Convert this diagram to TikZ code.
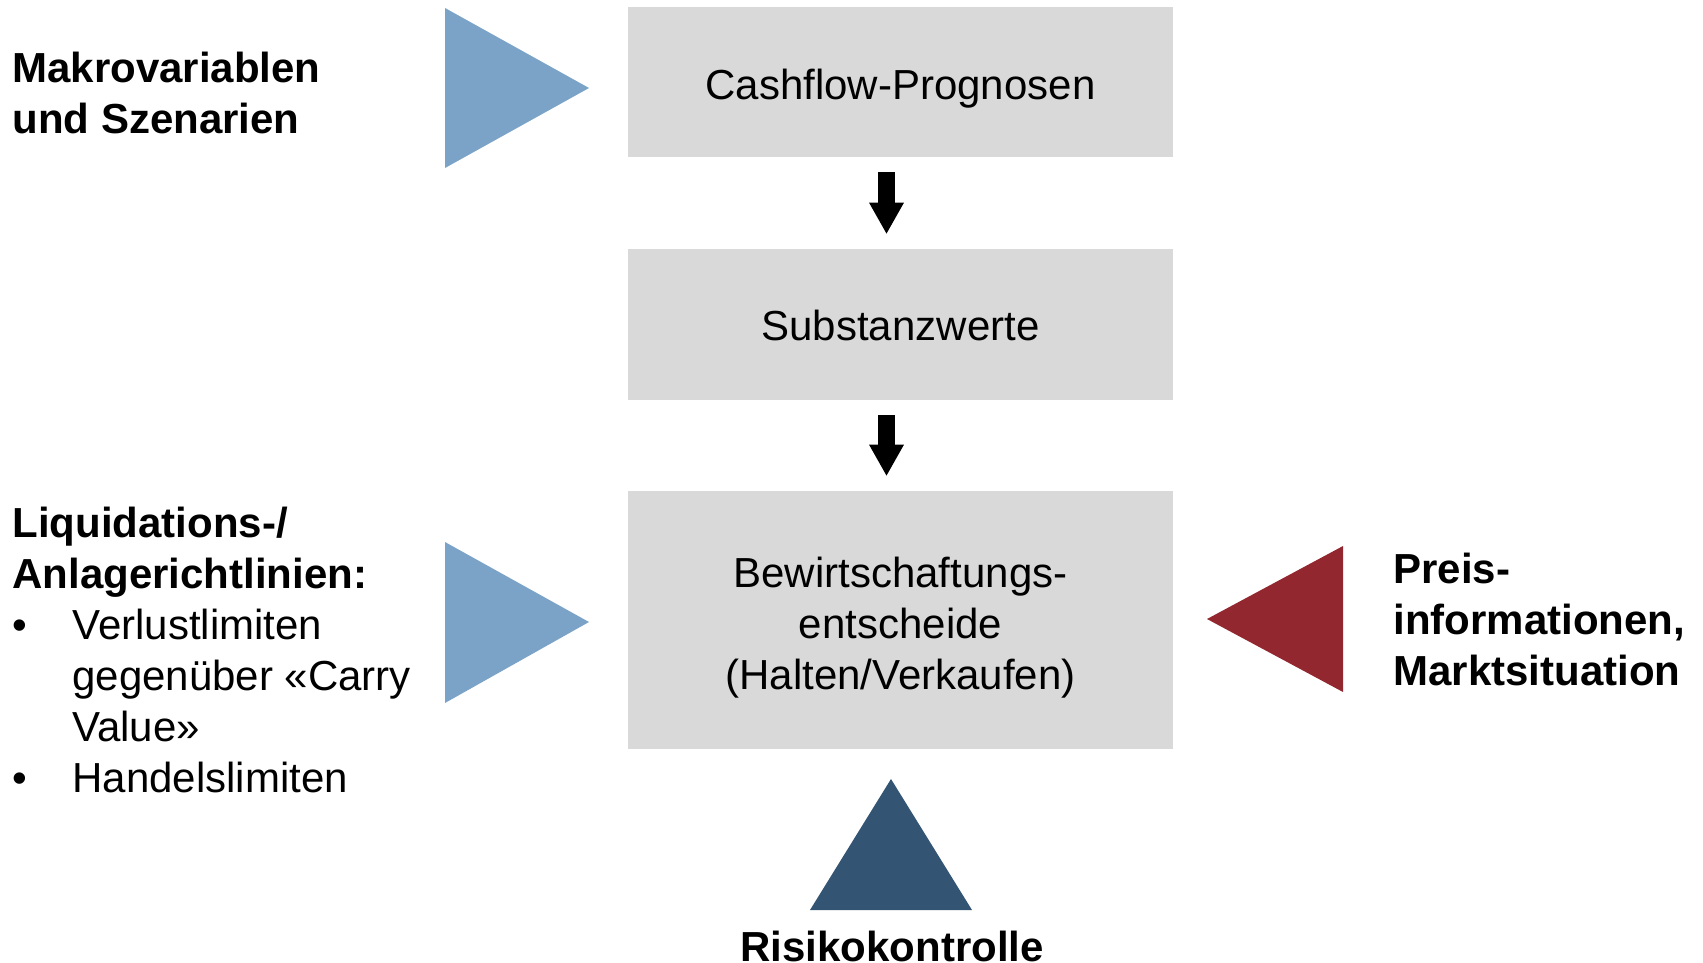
\documentclass[tikz,border=0pt]{standalone}
\usepackage{fontspec}
\setmainfont{Liberation Sans}
\usetikzlibrary{arrows.meta,positioning}
\definecolor{boxgray}{RGB}{217,217,217}
\definecolor{lightblue}{RGB}{123,163,200}
\definecolor{darkred}{RGB}{147,39,48}
\definecolor{navy}{RGB}{51,85,115}

\begin{document}
\begin{tikzpicture}[x=0.5pt,y=-0.5pt,box/.style={fill=boxgray,align=center,inner sep=0pt,minimum width=272.5pt,font=\fontsize{21}{25.5}\selectfont},lbl/.style={align=left,inner sep=0pt,font=\fontsize{21}{25.5}\selectfont},arr/.style={line width=8.5pt,-{Triangle[width=17.5pt,length=15.5pt,line width=0pt]}}]
\useasboundingbox (0,0) rectangle (1703,963);
% flow boxes
\node[box,minimum height=75pt,text height=21.5pt] (cash) at (900.5,82) {Cashflow-Prognosen};
\node[box,minimum height=75.5pt,text height=20pt,text depth=4.5pt] (subst) at (900.5,324.5) {Substanzwerte};
\node[box,minimum height=129pt,text height=74pt] (decide) at (900.5,620) {Bewirtschaftungs-\\entscheide\\(Halten/Verkaufen)};
\draw[arr] ([xshift=-7pt,yshift=-7.5pt]cash.south)--([xshift=-7pt,yshift=7.5pt]subst.north);
\draw[arr] ([xshift=-7pt,yshift=-7.5pt]subst.south)--([xshift=-7pt,yshift=7.5pt]decide.north);
% input triangles
\fill[lightblue] (445,8)--(445,168)--(589,88)--cycle;
\fill[lightblue] (445,542)--(445,703)--(589,622)--cycle;
\fill[darkred] (1343,546)--(1343,692)--(1207,619)--cycle;
\fill[navy] (810,910)--(972,910)--(891,779)--cycle;
% labels
\node[lbl,anchor=north west] (makro) at (12,52) {\bfseries Makrovariablen\\\bfseries und Szenarien};
\node[lbl,anchor=north west] (guide) at (12,507) {\bfseries Liquidations-/\\\bfseries Anlagerichtlinien:\\\makebox[30pt][l]{•}Verlustlimiten\\\hspace*{30pt}gegenüber «Carry\\\hspace*{30pt}Value»\\\makebox[30pt][l]{•}Handelslimiten};
\node[lbl,anchor=north west] (price) at (1393,553) {\bfseries Preis-\\\bfseries informationen,\\\bfseries Marktsituation};
\node[lbl,anchor=base] (risk) at (892,961) {\bfseries Risikokontrolle};
\end{tikzpicture}
\end{document}
